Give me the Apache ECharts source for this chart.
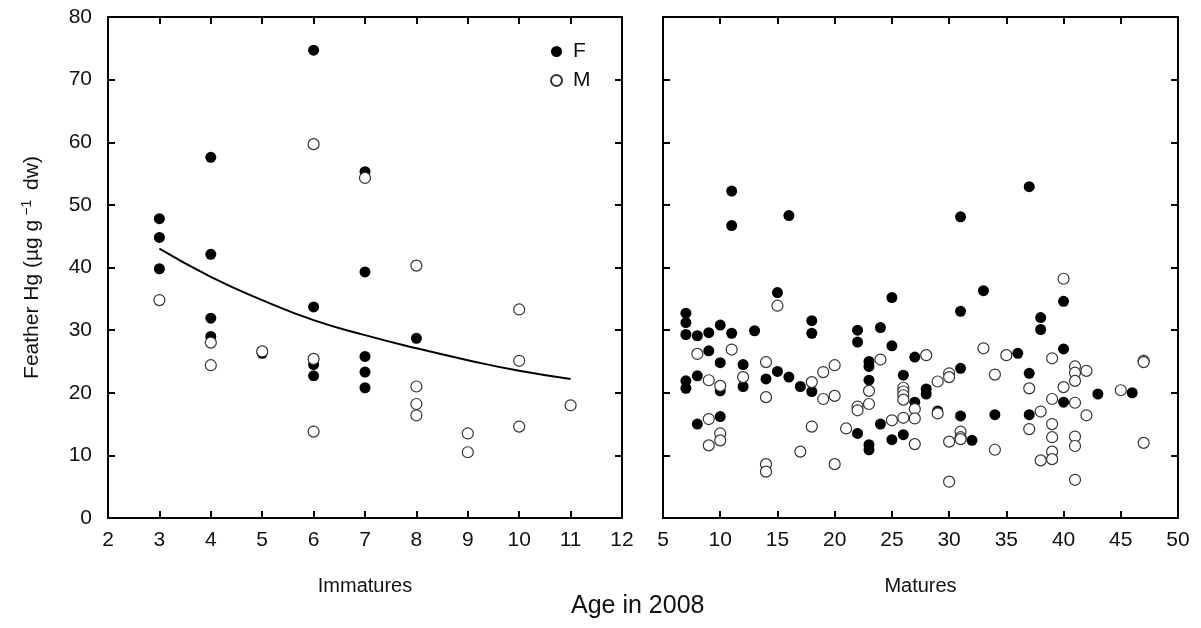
<!DOCTYPE html>
<html>
<head>
<meta charset="utf-8">
<script src="https://cdn.jsdelivr.net/npm/echarts@6/dist/echarts.min.js"></script>
<style>
  html, body { margin: 0; padding: 0; background: #fff; }
  #chart { width: 1201px; height: 628px; }
</style>
</head>
<body>
<div id="chart"></div>
<script>
// immatures, age 3-11
const immF = [
  [3, 47.8], [3, 44.8], [3, 39.8],
  [4, 57.6], [4, 42.1], [4, 31.9], [4, 29.0],
  [5, 26.3],
  [6, 74.7], [6, 33.7], [6, 24.5], [6, 22.7],
  [7, 55.3], [7, 39.3], [7, 25.8], [7, 23.3], [7, 20.8],
  [8, 28.7]
]
const immM = [
  [3, 34.8], [4, 28.0], [4, 24.4], [5, 26.6],
  [6, 59.7], [6, 25.4], [6, 13.8], [7, 54.3],
  [8, 40.3], [8, 21.0], [8, 18.2], [8, 16.4],
  [9, 13.5], [9, 10.5], [10, 33.3], [10, 25.1], [10, 14.6],
  [11, 18.0]
]
const fitAge = [3, 4, 5, 6, 7, 8, 9, 10, 11]
const fitHg = [43.0, 38.5, 34.8, 31.6, 29.2, 27.1, 25.2, 23.5, 22.2]

// matures, age 7-47
const matF = [
  [7, 32.7], [7, 31.2], [7, 29.3], [7, 21.9], [7, 20.7],
  [8, 29.1], [8, 22.7], [8, 15.0],
  [9, 29.6], [9, 26.7],
  [10, 30.8], [10, 24.8], [10, 20.3], [10, 16.2],
  [11, 52.2], [11, 46.7], [11, 29.5],
  [12, 24.5], [12, 21.0],
  [13, 29.9], [14, 22.2],
  [15, 36.0], [15, 23.4],
  [16, 48.3], [16, 22.5],
  [17, 21.0],
  [18, 31.5], [18, 29.5], [18, 20.2],
  [22, 30.0], [22, 28.1], [22, 13.5],
  [23, 25.0], [23, 24.2], [23, 22.0], [23, 11.7], [23, 10.9],
  [24, 30.4], [24, 15.0],
  [25, 35.2], [25, 27.5], [25, 12.5],
  [26, 22.8], [26, 13.3],
  [27, 25.7], [27, 18.5],
  [28, 20.6], [28, 19.8],
  [29, 17.1],
  [31, 48.1], [31, 33.0], [31, 23.9], [31, 16.3],
  [32, 12.4], [33, 36.3], [34, 16.5], [36, 26.3],
  [37, 52.9], [37, 23.1], [37, 16.5],
  [38, 32.0], [38, 30.1],
  [40, 34.6], [40, 27.0], [40, 18.5],
  [43, 19.8], [46, 20.0]
]
const matM = [
  [8, 26.2],
  [9, 22.0], [9, 15.8], [9, 11.6],
  [10, 21.1], [10, 13.5], [10, 12.4],
  [11, 26.9], [12, 22.5],
  [14, 24.9], [14, 19.3], [14, 8.6], [14, 7.4],
  [15, 33.9], [17, 10.6],
  [18, 21.7], [18, 14.6],
  [19, 23.3], [19, 19.0],
  [20, 24.4], [20, 19.5], [20, 8.6],
  [21, 14.3],
  [22, 17.8], [22, 17.2],
  [23, 20.3], [23, 18.2],
  [24, 25.3], [25, 15.6],
  [26, 20.8], [26, 20.2], [26, 19.6], [26, 18.9], [26, 16.0],
  [27, 17.4], [27, 15.9], [27, 11.8],
  [28, 26.0],
  [29, 16.7], [29, 21.8],
  [30, 23.1], [30, 22.5], [30, 12.2], [30, 5.8],
  [31, 13.8], [31, 12.9], [31, 12.6],
  [33, 27.1],
  [34, 22.9], [34, 10.9],
  [35, 26.0],
  [37, 20.7], [37, 14.2],
  [38, 17.0], [38, 9.2],
  [39, 25.5], [39, 19.0], [39, 15.0], [39, 12.9], [39, 10.6], [39, 9.4],
  [40, 38.2], [40, 20.9],
  [41, 24.2], [41, 23.2], [41, 21.9], [41, 18.4], [41, 13.0], [41, 11.5], [41, 6.1],
  [42, 23.5], [42, 16.4],
  [45, 20.4],
  [47, 25.1], [47, 24.9], [47, 12.0]
]

const font = 'Liberation Sans, Arial, sans-serif'
const line = { lineStyle: { color: '#000', width: 2 } }
const tick = { inside: true, length: 7, lineStyle: { color: '#000', width: 2 } }
const label = { fontSize: 21, color: '#111', fontFamily: font }

function xAx(grid, min, max, interval, pos, name) {
  return {
    type: 'value', gridIndex: grid, position: pos, min, max, interval,
    axisLine: { onZero: false, ...line }, axisTick: tick, splitLine: { show: false },
    axisLabel: { show: pos === 'bottom', margin: 12, ...label },
    name: pos === 'bottom' ? name : '', nameLocation: 'middle', nameGap: 58,
    nameTextStyle: { fontSize: 20, color: '#111', fontFamily: font }
  }
}
function yAx(grid, pos, labels) {
  return {
    type: 'value', gridIndex: grid, position: pos, min: 0, max: 80, interval: 10,
    axisLine: { onZero: false, ...line }, axisTick: tick, splitLine: { show: false },
    axisLabel: { show: labels, margin: 16, ...label }
  }
}

const filled = { color: '#000', opacity: 1 }
const open = { color: '#fff', borderColor: '#333', borderWidth: 1.2, opacity: 1 }

const chart = echarts.init(document.getElementById('chart'))
chart.setOption({
  animation: false,
  grid: [
    { left: 108, top: 17, width: 514, height: 501 },
    { left: 663, top: 17, width: 515, height: 501 }
  ],
  xAxis: [
    xAx(0, 2, 12, 1, 'bottom', 'Immatures'),
    xAx(0, 2, 12, 1, 'top', ''),
    xAx(1, 5, 50, 5, 'bottom', 'Matures'),
    xAx(1, 5, 50, 5, 'top', '')
  ],
  yAxis: [
    {
      ...yAx(0, 'left', true),
      name: '{a|Feather Hg (µg g}{s|−1}{a| dw)}',
      nameLocation: 'middle', nameGap: 63, nameRotate: 90,
      nameTextStyle: {
        rich: {
          a: { fontSize: 21, color: '#111', fontFamily: font },
          s: { fontSize: 14, color: '#111', fontFamily: font, padding: [0, 4, 11, 4] }
        }
      }
    },
    yAx(0, 'right', false),
    yAx(1, 'left', false),
    yAx(1, 'right', false)
  ],
  legend: {
    orient: 'vertical', left: 545, top: 36, itemGap: 8,
    itemWidth: 11, itemHeight: 11, icon: 'circle',
    textStyle: { fontSize: 21, color: '#111', fontFamily: font, padding: [0, 0, 0, 6] },
    data: ['F', 'M']
  },
  graphic: [{
    type: 'text', left: 571, top: 594,
    style: { text: 'Age in 2008', fontSize: 25, fill: '#111', fontFamily: font }
  }],
  series: [
    {
      type: 'line', xAxisIndex: 0, yAxisIndex: 0, smooth: true, showSymbol: false,
      data: fitAge.map((a, i) => [a, fitHg[i]]), lineStyle: { color: '#000', width: 2 }
    },
    { name: 'F', type: 'scatter', xAxisIndex: 0, yAxisIndex: 0, symbolSize: 11, data: immF, itemStyle: filled },
    { name: 'M', type: 'scatter', xAxisIndex: 0, yAxisIndex: 0, symbolSize: 11, data: immM, itemStyle: open },
    { name: 'F', type: 'scatter', xAxisIndex: 2, yAxisIndex: 2, symbolSize: 11, data: matF, itemStyle: filled },
    { name: 'M', type: 'scatter', xAxisIndex: 2, yAxisIndex: 2, symbolSize: 11, data: matM, itemStyle: open }
  ]
})
</script>
</body>
</html>
